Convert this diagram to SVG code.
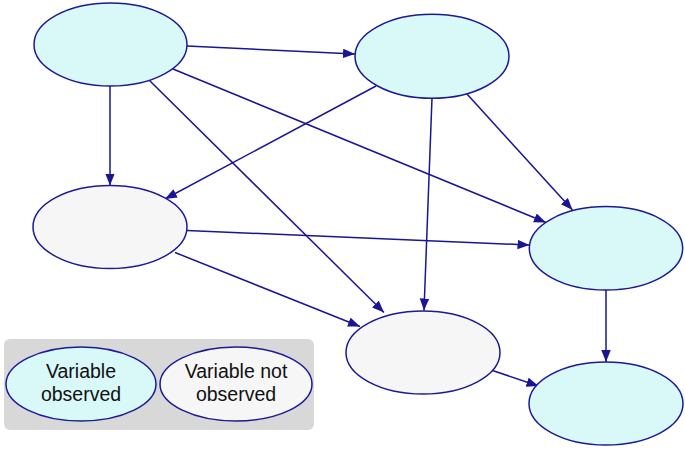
<svg xmlns="http://www.w3.org/2000/svg" width="685" height="450" viewBox="0 0 685 450">
<style>
.obs{fill:#d9f8f8;stroke:#1c1a96;stroke-width:1.5}
.hid{fill:#f6f6f6;stroke:#1c1a96;stroke-width:1.5}
.e line{stroke:#1a1496;stroke-width:1.5;marker-end:url(#ah)}
text{font-family:"Liberation Sans",Arial,sans-serif;font-size:19.5px;fill:#111;text-anchor:middle}
</style>
<defs>
<marker id="ah" markerUnits="userSpaceOnUse" markerWidth="14" markerHeight="11" refX="12" refY="4.75" orient="auto">
<path d="M0,0 L12,4.75 L0,9.5 z" fill="#1a1496"/>
</marker>
</defs>
<rect width="685" height="450" fill="#fff"/>
<g id="legend">
<rect x="4" y="339" width="310" height="91" rx="6" fill="#d8d8d8"/>
<ellipse class="obs" cx="81" cy="384" rx="75" ry="37"/>
<text x="81" y="378">Variable</text>
<text x="81" y="401">observed</text>
<ellipse class="hid" cx="236" cy="384" rx="76" ry="37"/>
<text x="236" y="378">Variable not</text>
<text x="236" y="401">observed</text>
</g>
<g id="edges" class="e">
<line x1="187" y1="46" x2="355" y2="54"/>
<line x1="110" y1="86" x2="110" y2="185.5"/>
<line x1="148" y1="79" x2="384" y2="312.5"/>
<line x1="173" y1="69" x2="546" y2="222.5"/>
<line x1="376" y1="86" x2="165" y2="199"/>
<line x1="432" y1="98" x2="424" y2="310.5"/>
<line x1="467" y1="94" x2="572.5" y2="210"/>
<line x1="187" y1="230.5" x2="529.5" y2="245"/>
<line x1="175" y1="252.5" x2="360" y2="326.5"/>
<line x1="606" y1="290" x2="606" y2="362"/>
<line x1="492.5" y1="370.5" x2="538.5" y2="386"/>
</g>
<g id="nA"><ellipse class="obs" cx="110.5" cy="44.5" rx="76.5" ry="41.5"/></g>
<g id="nB"><ellipse class="obs" cx="432" cy="56.3" rx="77" ry="42"/></g>
<g id="nC"><ellipse class="hid" cx="110" cy="227" rx="77" ry="41.5"/></g>
<g id="nD"><ellipse class="obs" cx="606" cy="248.3" rx="76.7" ry="41.7"/></g>
<g id="nE"><ellipse class="hid" cx="423" cy="352.5" rx="77" ry="41.5"/></g>
<g id="nF"><ellipse class="obs" cx="606" cy="403.5" rx="77" ry="41.5"/></g>
</svg>
